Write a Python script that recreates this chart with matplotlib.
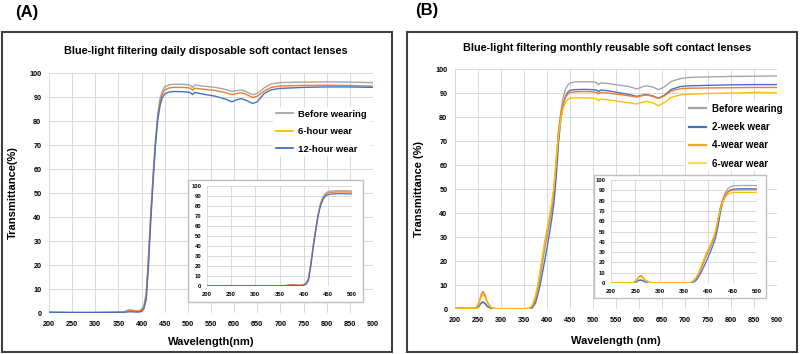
import matplotlib.pyplot as plt
from matplotlib.lines import Line2D
from matplotlib.patches import Rectangle

plt.rcParams['font.family'] = ['Liberation Sans', 'DejaVu Sans']
plt.rcParams['font.weight'] = 'bold'

# ---- panel A: daily disposable lenses ----
wl_a = [200, 250, 300, 350, 362, 368, 372, 380, 388, 395, 400, 405, 410, 415, 420,
        425, 430, 435, 440, 445, 450, 460, 470, 490, 505, 510, 515, 530, 560, 580,
        595, 605, 615, 625, 640, 650, 665, 680, 700, 750, 800, 850, 900]
before_a = [0.3, 0.2, 0.2, 0.3, 0.4, 1.0, 1.3, 1.2, 0.9, 0.9, 1.5, 3.0, 8.0, 24, 42,
            58, 72, 83, 89.5, 92.5, 94.3, 95.1, 95.3, 95.3, 95.0, 94.0, 95.0, 94.6, 94.0, 93.2,
            92.3, 92.6, 92.9, 92.3, 91.0, 91.5, 93.8, 95.5, 96.0, 96.2, 96.3, 96.2, 96.0]
h6_a = [0.3, 0.2, 0.2, 0.3, 0.4, 0.8, 1.1, 1.0, 0.7, 0.7, 1.2, 2.6, 7.5, 23, 41,
        57, 71, 82, 88, 91.3, 93.0, 93.8, 94.0, 94.0, 93.7, 92.8, 93.7, 93.3, 92.7, 91.9,
        91.0, 91.4, 91.8, 91.2, 89.8, 90.3, 92.5, 94.0, 94.6, 94.8, 94.9, 94.8, 94.5]
h12_a = [0.3, 0.2, 0.2, 0.3, 0.3, 0.4, 0.5, 0.5, 0.4, 0.4, 0.7, 1.8, 5.5, 20, 39,
         55, 70, 80.5, 86.5, 89.8, 91.3, 92.1, 92.3, 92.2, 91.9, 91.0, 91.9, 91.3, 90.3, 89.2,
         88.0, 88.8, 89.3, 88.7, 87.3, 88.0, 91.5, 93.0, 93.6, 94.0, 94.2, 94.2, 94.0]
labels_a = ['Before wearing', '6-hour wear', '12-hour wear']

# ---- panel B: monthly reusable lenses ----
wl_b = [200, 245, 252, 257, 261, 265, 270, 278, 285, 300, 350, 362, 368, 375, 380,
        385, 390, 395, 400, 405, 410, 415, 420, 425, 430, 435, 440, 445, 450, 460,
        480, 500, 508, 512, 516, 530, 560, 580, 595, 605, 616, 630, 642, 655, 670,
        690, 710, 750, 800, 850, 900]
before_b = [0.3, 0.3, 1.0, 2.3, 2.7, 2.2, 1.0, 0.3, 0.1, 0.1, 0.1, 0.2, 1.0, 4, 8,
            13, 19, 25, 30, 35, 41, 48, 60, 73, 82, 88, 91.5, 93.2, 94.2, 94.6,
            94.7, 94.6, 94.3, 93.5, 94.2, 94.0, 93.2, 92.6, 91.7, 92.4, 93.0, 92.5, 91.4, 92.5, 94.8,
            96.0, 96.5, 96.7, 96.9, 97.0, 97.1]
w2_b = [0.3, 0.2, 1.2, 2.6, 3.0, 2.4, 1.2, 0.3, 0.1, 0.1, 0.1, 0.1, 0.5, 2.5, 6,
        10, 15, 20, 25.5, 31, 37, 44, 55, 69, 79, 85, 88.5, 90.3, 91.1, 91.4,
        91.5, 91.4, 91.2, 90.5, 91.2, 91.0, 90.0, 89.3, 88.6, 89.0, 89.4, 88.8, 87.8, 89.0, 91.5,
        92.7, 93.0, 93.2, 93.4, 93.5, 93.5]
w4_b = [0.3, 0.3, 2.5, 6.0, 7.3, 6.0, 3.0, 0.8, 0.2, 0.1, 0.1, 0.3, 1.5, 5, 9.5,
        15, 21, 27, 32, 37, 43, 50, 62, 74, 81, 85.5, 88, 89.5, 90.2, 90.5,
        90.6, 90.5, 90.2, 89.5, 90.2, 90.0, 89.3, 88.8, 88.3, 88.8, 89.2, 88.6, 87.8, 88.8, 90.8,
        91.8, 92.0, 92.1, 92.2, 92.3, 92.3]
w6_b = [0.3, 0.3, 2.0, 5.0, 6.0, 5.0, 2.5, 0.6, 0.2, 0.1, 0.1, 0.3, 1.6, 5.5, 10,
        16, 22, 28, 33, 38, 44, 51, 62, 72, 79, 83.5, 86, 87.2, 87.8, 88.0,
        88.0, 87.9, 87.6, 86.8, 87.5, 87.2, 86.4, 85.9, 85.4, 86.0, 86.5, 85.9, 84.7, 86.0, 88.2,
        89.2, 89.5, 89.8, 90.0, 90.2, 90.2]
labels_b = ['Before wearing', '2-week wear', '4-wear wear', '6-wear wear']

gray, orange, blue, gold, yellow = '#A5A5A5', '#ED7D31', '#4472C4', '#FFC000', '#FFD966'
grid_c = '#D9D9D9'

W, H = 800, 354
fig = plt.figure(figsize=(8, 3.54), dpi=100)


def box(x0, y0, x1, y1):
    # pixel coords (top-left origin) -> figure fraction
    return [x0 / W, 1 - y1 / H, (x1 - x0) / W, (y1 - y0) / H]


def style(ax, xmax, fs, pad):
    ax.set_xlim(200, xmax)
    ax.set_ylim(0, 100)
    ax.set_xticks(range(200, xmax + 1, 50))
    ax.set_yticks(range(0, 101, 10))
    ax.grid(color=grid_c, lw=0.7)
    ax.set_axisbelow(True)
    for s in ax.spines.values():
        s.set_visible(False)
    ax.tick_params(length=0, labelsize=fs, pad=pad)
    for t in ax.get_xticklabels() + ax.get_yticklabels():
        t.set_fontweight('bold')


def frame(x0, y0, x1, y1, color, lw):
    fig.patches.append(Rectangle((x0 / W, 1 - y1 / H), (x1 - x0) / W, (y1 - y0) / H,
                                 transform=fig.transFigure, fill=False,
                                 edgecolor=color, lw=lw, zorder=0))


frame(2, 32, 392, 352, '#404040', 1.5)
frame(407, 32, 797, 352, '#404040', 1.5)

# A main
ax = fig.add_axes(box(49, 73, 373, 313))
ax.plot(wl_a, before_a, color=gray, lw=1)
ax.plot(wl_a, h6_a, color=orange, lw=1)
ax.plot(wl_a, h12_a, color=blue, lw=1)
style(ax, 900, 5.2, 5.5)
ax.set_xlabel('Wavelength(nm)', fontsize=8, fontweight='bold', labelpad=7)
ax.set_ylabel('Transmittance(%)', fontsize=8, fontweight='bold', labelpad=8)
handles = [Line2D([], [], color=c, lw=1.3) for c in (gray, gold, blue)]
ax.legend(handles, labels_a, loc='upper left', bbox_to_anchor=(268 / W, 1 - 102 / H),
          bbox_transform=fig.transFigure, frameon=True, facecolor='white',
          edgecolor='none', framealpha=1, handlelength=1.8, labelspacing=0.9,
          borderpad=0.3, handletextpad=0.6, prop={'weight': 'bold', 'size': 6.8})
fig.text(206 / W, 1 - 51 / H, 'Blue-light filtering daily disposable soft contact lenses',
         ha='center', va='center', fontsize=7.8, fontweight='bold')
fig.text(27 / W, 1 - 13 / H, '(A)', ha='center', va='center', fontsize=12, fontweight='bold')

# A inset
fig.patches.append(Rectangle((188 / W, 1 - 302 / H), 175 / W, 122 / H, transform=fig.transFigure,
                             facecolor='white', edgecolor='#BFBFBF', lw=1, zorder=2))
ax = fig.add_axes(box(207, 186, 352, 286))
ax.set_zorder(3)
ax.patch.set_alpha(0)
ax.plot(wl_a, before_a, color=gray, lw=0.9)
ax.plot(wl_a, h6_a, color=orange, lw=0.9)
ax.plot(wl_a, h12_a, color=blue, lw=0.9)
style(ax, 500, 4.2, 4)

# B main
ax = fig.add_axes(box(455, 69, 777, 309))
ax.plot(wl_b, before_b, color=gray, lw=1)
ax.plot(wl_b, w2_b, color=blue, lw=1)
ax.plot(wl_b, w4_b, color=orange, lw=1)
ax.plot(wl_b, w6_b, color=gold, lw=1)
style(ax, 900, 5.2, 5.5)
ax.set_xlabel('Wavelength (nm)', fontsize=8, fontweight='bold', labelpad=9)
ax.set_ylabel('Transmittance (%)', fontsize=8, fontweight='bold', labelpad=8)
handles = [Line2D([], [], color=c, lw=1.6) for c in (gray, blue, '#E6AC1E', yellow)]
ax.legend(handles, labels_b, loc='upper left', bbox_to_anchor=(681 / W, 1 - 96 / H),
          bbox_transform=fig.transFigure, frameon=True, facecolor='white',
          edgecolor='none', framealpha=1, handlelength=1.8, labelspacing=0.85,
          borderpad=0.3, handletextpad=0.6, prop={'weight': 'bold', 'size': 7})
fig.text(607 / W, 1 - 48 / H, 'Blue-light filtering monthly reusable soft contact lenses',
         ha='center', va='center', fontsize=7.8, fontweight='bold')
fig.text(427 / W, 1 - 11 / H, '(B)', ha='center', va='center', fontsize=12, fontweight='bold')

# B inset
fig.patches.append(Rectangle((594 / W, 1 - 298 / H), 172 / W, 123 / H, transform=fig.transFigure,
                             facecolor='white', edgecolor='#BFBFBF', lw=1, zorder=2))
ax = fig.add_axes(box(611, 180, 757, 283))
ax.set_zorder(3)
ax.patch.set_alpha(0)
ax.plot(wl_b, before_b, color=gray, lw=0.9)
ax.plot(wl_b, w2_b, color=blue, lw=0.9)
ax.plot(wl_b, w4_b, color=orange, lw=0.9)
ax.plot(wl_b, w6_b, color=gold, lw=0.9)
style(ax, 500, 4.2, 4)

fig.savefig('out.png', dpi=100)
